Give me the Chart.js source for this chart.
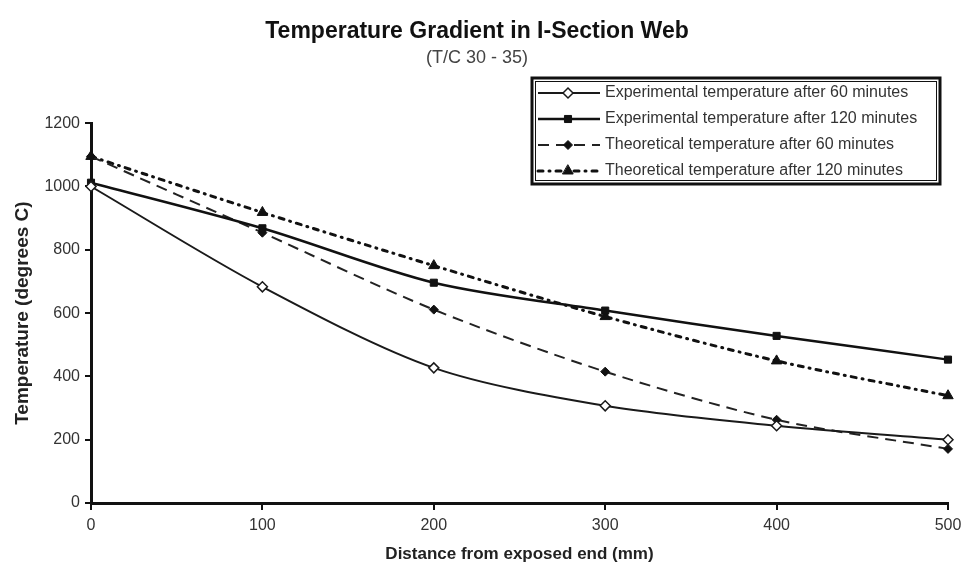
<!DOCTYPE html>
<html>
<head>
<meta charset="utf-8">
<title>Temperature Gradient in I-Section Web</title>
<script src="https://cdn.jsdelivr.net/npm/chart.js@4.4.1/dist/chart.umd.min.js"></script>
<style>
    html, body { margin: 0; padding: 0; background: #fff; overflow: hidden; }
    #wrap { width: 985px; height: 576px; }
</style>
</head>
<body>
<div id="wrap"><canvas id="chart" width="985" height="576"></canvas></div>
<script>
// distance from exposed end (mm)
const distances = [0, 100, 200, 300, 400, 500];

// temperatures (degrees C)
const exp60 = [1000, 683, 427, 307, 244, 200];
const exp120 = [1012, 868, 696, 608, 528, 453];
const theo60 = [1095, 854, 611, 415, 263, 171];
const theo120 = [1095, 918, 750, 589, 449, 339];

const seriesLabels = [
    'Experimental temperature after 60 minutes',
    'Experimental temperature after 120 minutes',
    'Theoretical temperature after 60 minutes',
    'Theoretical temperature after 120 minutes'
];

const xTicks = [0, 100, 200, 300, 400, 500];
const yTicks = [0, 200, 400, 600, 800, 1000, 1200];

const fontFamily = '"Liberation Sans", Arial, sans-serif';

function toPoints(values) {
    return distances.map((d, i) => ({ x: d, y: values[i] }));
}

// Legend box drawn over the plot, top right
const boxLegend = {
    id: 'boxLegend',
    afterDraw(chart) {
        const ctx = chart.ctx;
        const x0 = 532, y0 = 78, w = 408, h = 106;
        ctx.save();
        ctx.fillStyle = '#fff';
        ctx.fillRect(x0, y0, w, h);
        ctx.strokeStyle = '#111';
        ctx.lineWidth = 3;
        ctx.strokeRect(x0, y0, w, h);
        ctx.lineWidth = 1;
        ctx.strokeRect(x0 + 3.5, y0 + 3.5, w - 7, h - 7);

        const rows = [93, 119, 145, 171];
        chart.data.datasets.forEach((ds, i) => {
            const y = rows[i];
            ctx.save();
            ctx.strokeStyle = ds.borderColor;
            ctx.lineWidth = ds.borderWidth;
            ctx.lineCap = ds.borderCapStyle || 'butt';
            ctx.setLineDash(ds.borderDash || []);
            ctx.beginPath();
            ctx.moveTo(538, y);
            ctx.lineTo(600, y);
            ctx.stroke();
            ctx.setLineDash([]);
            ctx.fillStyle = ds.pointBackgroundColor;
            ctx.strokeStyle = ds.pointBorderColor;
            ctx.lineWidth = ds.pointBorderWidth;
            Chart.helpers.drawPoint(ctx, {
                pointStyle: ds.pointStyle,
                radius: ds.pointRadius,
                rotation: 0,
                borderWidth: ds.pointBorderWidth
            }, 568, y);
            ctx.restore();

            ctx.fillStyle = '#333';
            ctx.font = '16px ' + fontFamily;
            ctx.textBaseline = 'middle';
            ctx.textAlign = 'left';
            ctx.fillText(ds.label, 605, y);
        });
        ctx.restore();
    }
};

const ctx = document.getElementById('chart').getContext('2d');

new Chart(ctx, {
    type: 'line',
    data: {
        datasets: [
            {
                label: seriesLabels[0],
                data: toPoints(exp60),
                borderColor: '#1a1a1a',
                borderWidth: 2,
                pointStyle: 'rectRot',
                pointRadius: 5,
                pointBackgroundColor: '#fff',
                pointBorderColor: '#1a1a1a',
                pointBorderWidth: 1.5,
                tension: 0.3,
                clip: false
            },
            {
                label: seriesLabels[1],
                data: toPoints(exp120),
                borderColor: '#111',
                borderWidth: 2.5,
                pointStyle: 'rect',
                pointRadius: 5,
                pointBackgroundColor: '#111',
                pointBorderColor: '#111',
                pointBorderWidth: 1,
                tension: 0.3,
                clip: false
            },
            {
                label: seriesLabels[2],
                data: toPoints(theo60),
                borderColor: '#222',
                borderWidth: 2,
                borderDash: [11, 7],
                pointStyle: 'rectRot',
                pointRadius: 4.5,
                pointBackgroundColor: '#111',
                pointBorderColor: '#111',
                pointBorderWidth: 1,
                tension: 0.3,
                clip: false
            },
            {
                label: seriesLabels[3],
                data: toPoints(theo120),
                borderColor: '#111',
                borderWidth: 3,
                borderDash: [5, 6, 1, 6],
                borderCapStyle: 'round',
                pointStyle: 'triangle',
                pointRadius: 6,
                pointBackgroundColor: '#111',
                pointBorderColor: '#111',
                pointBorderWidth: 1,
                tension: 0.3,
                clip: false
            }
        ]
    },
    options: {
        responsive: false,
        animation: false,
        layout: { padding: { left: 6, right: 37, top: 0, bottom: 0 } },
        scales: {
            x: {
                type: 'linear',
                min: 0,
                max: 500,
                afterBuildTicks: (scale) => { scale.ticks = xTicks.map(v => ({ value: v })); },
                afterFit: (scale) => { scale.height = 73; },
                border: { color: '#111', width: 3 },
                grid: { drawOnChartArea: false, drawTicks: true, tickLength: 7, color: '#111', lineWidth: 2 },
                ticks: {
                    color: '#333',
                    padding: 6,
                    font: { family: fontFamily, size: 16 },
                    callback: (v) => String(v)
                },
                title: {
                    display: true,
                    text: 'Distance from exposed end (mm)',
                    color: '#222',
                    padding: { top: 0, bottom: 11 },
                    font: { family: fontFamily, size: 17, weight: 'bold' }
                }
            },
            y: {
                min: 0,
                max: 1200,
                afterBuildTicks: (scale) => { scale.ticks = yTicks.map(v => ({ value: v })); },
                afterFit: (scale) => { scale.width = 85; },
                border: { color: '#111', width: 3 },
                grid: { drawOnChartArea: false, drawTicks: true, tickLength: 6, color: '#111', lineWidth: 2 },
                ticks: {
                    color: '#333',
                    padding: 5,
                    font: { family: fontFamily, size: 16 },
                    callback: (v) => String(v)
                },
                title: {
                    display: true,
                    text: 'Temperature (degrees C)',
                    color: '#222',
                    padding: { top: 5, bottom: 0 },
                    font: { family: fontFamily, size: 19, weight: 'bold' }
                }
            }
        },
        plugins: {
            legend: { display: false },
            tooltip: { enabled: false },
            title: {
                display: true,
                text: 'Temperature Gradient in I-Section Web',
                color: '#111',
                padding: { top: 18, bottom: 2 },
                font: { family: fontFamily, size: 23, weight: 'bold' }
            },
            subtitle: {
                display: true,
                text: '(T/C 30 - 35)',
                color: '#444',
                padding: { top: 0, bottom: 54 },
                font: { family: fontFamily, size: 18 }
            }
        }
    },
    plugins: [boxLegend]
});
</script>
</body>
</html>
